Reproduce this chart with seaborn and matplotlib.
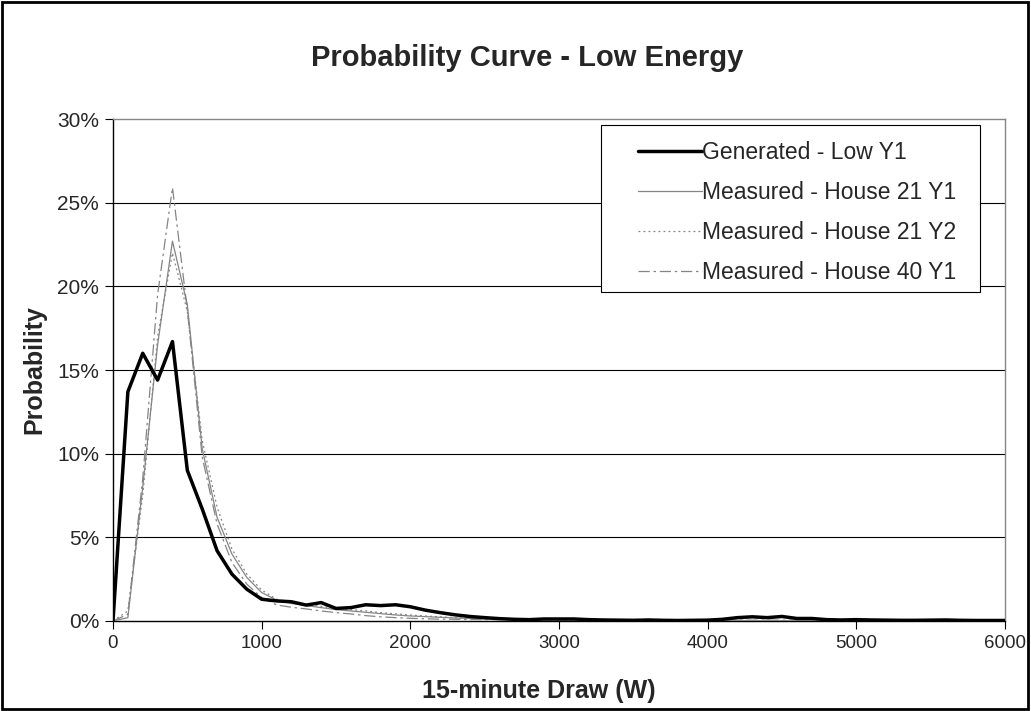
import matplotlib
matplotlib.use("Agg")
import matplotlib.pyplot as plt
from matplotlib.patches import Rectangle
from matplotlib.lines import Line2D
import seaborn as sns
import pandas as pd

# --------------------------------------------------
# Data (probability in %)
# --------------------------------------------------

watts = list(range(0, 6001, 100))

generated_low_y1 = [
    0.0, 13.7, 16.0, 14.4, 16.7, 9.0, 6.7, 4.2, 2.8, 1.9,
    1.3, 1.2, 1.15, 0.95, 1.1, 0.75, 0.8, 0.97, 0.92, 0.97,
    0.85, 0.65, 0.5, 0.37, 0.27, 0.2, 0.14, 0.1, 0.08, 0.12,
    0.12, 0.12, 0.08, 0.06, 0.05, 0.04, 0.06, 0.04, 0.03, 0.04,
    0.05, 0.1, 0.2, 0.25, 0.2, 0.27, 0.15, 0.15, 0.08, 0.06,
    0.08, 0.06, 0.05, 0.04, 0.04, 0.05, 0.06, 0.04, 0.03, 0.03,
    0.03,
]

house21_y1 = [
    0.0, 0.2, 8.0, 16.5, 22.7, 18.9, 10.3, 6.2, 4.0, 2.6,
    1.7, 1.25, 1.05, 0.92, 0.8, 0.68, 0.6, 0.52, 0.44, 0.36,
    0.3, 0.26, 0.22, 0.18, 0.15, 0.12, 0.1, 0.08, 0.07, 0.06,
    0.06, 0.05, 0.05, 0.04, 0.04, 0.04, 0.03, 0.03, 0.03, 0.03,
    0.03, 0.03, 0.03, 0.02, 0.02, 0.02, 0.02, 0.02, 0.02, 0.02,
    0.02, 0.02, 0.02, 0.02, 0.02, 0.02, 0.02, 0.02, 0.02, 0.02,
    0.02,
]

house21_y2 = [
    0.0, 0.6, 7.5, 17.0, 22.0, 18.5, 10.8, 6.8, 4.3, 2.8,
    1.85, 1.3, 1.1, 1.0, 0.87, 0.75, 0.68, 0.6, 0.5, 0.43,
    0.36, 0.3, 0.25, 0.2, 0.16, 0.13, 0.1, 0.09, 0.08, 0.07,
    0.06, 0.06, 0.05, 0.05, 0.04, 0.04, 0.04, 0.03, 0.03, 0.03,
    0.03, 0.03, 0.03, 0.03, 0.02, 0.02, 0.02, 0.02, 0.02, 0.02,
    0.02, 0.02, 0.02, 0.02, 0.02, 0.02, 0.02, 0.02, 0.02, 0.02,
    0.02,
]

house40_y1 = [
    0.0, 0.4, 8.5, 19.5, 25.9, 18.6, 9.8, 5.8, 3.5, 2.2,
    1.4, 0.96, 0.82, 0.72, 0.6, 0.5, 0.42, 0.32, 0.25, 0.2,
    0.16, 0.13, 0.11, 0.1, 0.09, 0.08, 0.08, 0.08, 0.07, 0.07,
    0.07, 0.06, 0.06, 0.06, 0.05, 0.05, 0.05, 0.05, 0.05, 0.05,
    0.05, 0.05, 0.05, 0.05, 0.05, 0.05, 0.05, 0.05, 0.05, 0.05,
    0.05, 0.05, 0.05, 0.05, 0.05, 0.05, 0.05, 0.05, 0.05, 0.05,
    0.05,
]

series_labels = [
    "Generated - Low Y1",
    "Measured - House 21 Y1",
    "Measured - House 21 Y2",
    "Measured - House 40 Y1",
]
y_ticks = [0, 5, 10, 15, 20, 25, 30]
x_ticks = [0, 1000, 2000, 3000, 4000, 5000, 6000]

# --------------------------------------------------
# Style
# --------------------------------------------------

sns.set_style("white")
plt.rcParams["font.family"] = ["Liberation Sans", "DejaVu Sans"]

fig = plt.figure(figsize=(10.31, 7.11), dpi=100)
ax_left, ax_width = 113 / 1031, 892 / 1031
ax = fig.add_axes([ax_left, 0.1266, ax_width, 0.706])

df = pd.DataFrame({
    "watts": watts,
    series_labels[0]: generated_low_y1,
    series_labels[1]: house21_y1,
    series_labels[2]: house21_y2,
    series_labels[3]: house40_y1,
})

gray = "#858585"
line_styles = {
    series_labels[0]: dict(color="black", linewidth=2.5, linestyle="-", zorder=5),
    series_labels[1]: dict(color=gray, linewidth=0.9, linestyle="-", zorder=3),
    series_labels[2]: dict(color=gray, linewidth=0.9, linestyle=(0, (1.5, 2.5)), zorder=3),
    series_labels[3]: dict(color=gray, linewidth=0.9, linestyle=(0, (9, 3, 2, 3)), zorder=3),
}

for label in series_labels[1:] + series_labels[:1]:
    sns.lineplot(data=df, x="watts", y=label, ax=ax, **line_styles[label])

# grid and frame
for v in y_ticks[1:-1]:
    ax.axhline(v, color="black", linewidth=0.8, zorder=1)

ax.set_xlim(0, 6000)
ax.set_ylim(0, 30)
ax.set_xticks(x_ticks)
ax.set_yticks(y_ticks)
ax.set_yticklabels([f"{v}%" for v in y_ticks])
ax.tick_params(axis="both", direction="out", length=6, width=0.8,
               color="black", pad=4)
ax.tick_params(axis="x", bottom=True, labelsize=13.5)
ax.tick_params(axis="y", left=True, labelsize=15)

for side in ["left", "bottom"]:
    ax.spines[side].set_color("black")
    ax.spines[side].set_linewidth(1.0)
for side in ["top", "right"]:
    ax.spines[side].set_color(gray)
    ax.spines[side].set_linewidth(1.0)

fig.text(0.511, 0.918, "Probability Curve - Low Energy", fontsize=21,
         fontweight="bold", ha="center", va="center")
ax.set_xlabel("15-minute Draw (W)", fontsize=18, fontweight="bold")
ax.xaxis.set_label_coords((539 / 1031 - ax_left) / ax_width, -0.115)
ax.set_ylabel("Probability", fontsize=18, fontweight="bold", labelpad=8)

# --------------------------------------------------
# Legend (box drawn separately for the Excel-like padding)
# --------------------------------------------------

handles = [
    Line2D([], [], **{k: v for k, v in line_styles[label].items() if k != "zorder"})
    for label in series_labels
]
ax.legend(handles, series_labels, loc="upper left", bbox_to_anchor=(0.583, 0.966),
          frameon=False, fontsize=16.5, handlelength=2.8, handletextpad=0.0,
          labelspacing=0.74, borderpad=0.2, borderaxespad=0)
ax.add_patch(Rectangle((0.547, 0.655), 0.425, 0.333, transform=ax.transAxes,
                       facecolor="white", edgecolor="black", linewidth=0.8, zorder=6))
ax.get_legend().set_zorder(7)

# outer chart border
fig.patches.append(Rectangle((0.002, 0.003), 0.995, 0.994, transform=fig.transFigure,
                             fill=False, edgecolor="black", linewidth=2))

fig.savefig("out.png", dpi=100)
